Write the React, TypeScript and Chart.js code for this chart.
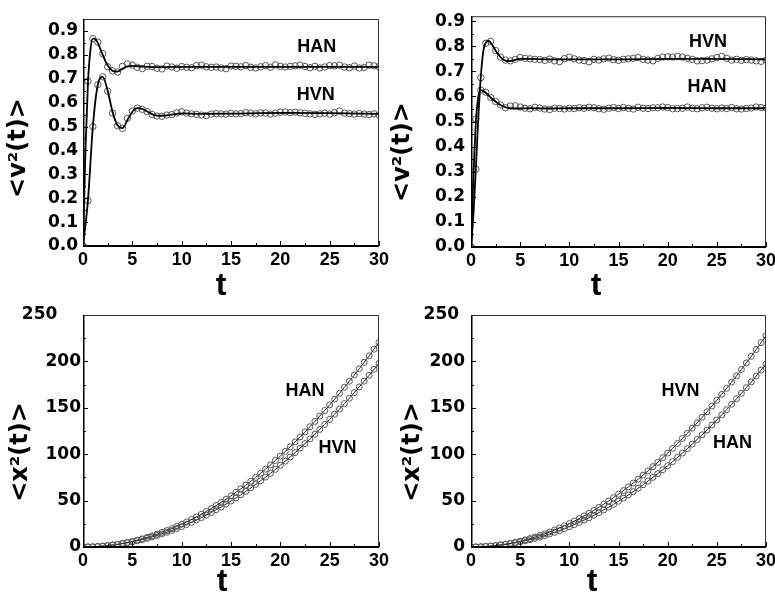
import { useEffect, useRef } from "react";
import { Chart, registerables } from "chart.js";

Chart.register(...registerables);

// ---------- shared axes ----------
const T = [0, 0.5, 1, 1.5, 2, 2.5, 3, 3.5, 4, 4.5, 5, 5.5, 6, 6.5, 7, 7.5, 8, 8.5, 9, 9.5, 10, 10.5, 11, 11.5, 12, 12.5, 13, 13.5, 14, 14.5, 15, 15.5, 16, 16.5, 17, 17.5, 18, 18.5, 19, 19.5, 20, 20.5, 21, 21.5, 22, 22.5, 23, 23.5, 24, 24.5, 25, 25.5, 26, 26.5, 27, 27.5, 28, 28.5, 29, 29.5, 30];
const X_TICKS = [0, 5, 10, 15, 20, 25, 30];
const X_MINOR = [2.5, 7.5, 12.5, 17.5, 22.5, 27.5];
const V_TICKS = [0, 0.1, 0.2, 0.3, 0.4, 0.5, 0.6, 0.7, 0.8, 0.9];
const V_MINOR = [0.05, 0.15, 0.25, 0.35, 0.45, 0.55, 0.65, 0.75, 0.85];
const X2_TICKS = [0, 50, 100, 150, 200, 250];
const X2_MINOR = [25, 75, 125, 175, 225];

// ---------- top-left panel: <v^2(t)> ----------
const TL_HAN_MARK = [0, 0.69, 0.868, 0.853, 0.805, 0.75, 0.733, 0.728, 0.752, 0.762, 0.757, 0.748, 0.742, 0.752, 0.751, 0.744, 0.741, 0.753, 0.749, 0.744, 0.751, 0.748, 0.746, 0.755, 0.757, 0.75, 0.748, 0.749, 0.745, 0.742, 0.753, 0.752, 0.75, 0.755, 0.748, 0.745, 0.75, 0.755, 0.748, 0.758, 0.752, 0.749, 0.752, 0.754, 0.757, 0.751, 0.746, 0.752, 0.745, 0.749, 0.755, 0.754, 0.757, 0.749, 0.746, 0.753, 0.745, 0.747, 0.757, 0.754, 0.75];
const TL_HVN_MARK = [0, 0.19, 0.5, 0.675, 0.708, 0.648, 0.556, 0.503, 0.492, 0.534, 0.565, 0.577, 0.572, 0.562, 0.551, 0.544, 0.543, 0.548, 0.55, 0.557, 0.562, 0.556, 0.553, 0.551, 0.548, 0.546, 0.552, 0.554, 0.553, 0.552, 0.555, 0.553, 0.554, 0.558, 0.556, 0.553, 0.557, 0.556, 0.552, 0.556, 0.56, 0.561, 0.558, 0.56, 0.557, 0.555, 0.553, 0.551, 0.553, 0.556, 0.552, 0.558, 0.565, 0.556, 0.554, 0.552, 0.554, 0.552, 0.55, 0.553, 0.548];
const TL_HAN_LINE_T = [0, 0.25, 0.5, 0.75, 1, 1.25, 1.5, 2, 2.5, 3, 3.5, 4, 4.5, 5, 6, 7, 8, 10, 15, 20, 25, 30];
const TL_HAN_LINE = [0, 0.4, 0.68, 0.82, 0.868, 0.866, 0.85, 0.8, 0.755, 0.733, 0.73, 0.742, 0.752, 0.754, 0.751, 0.749, 0.749, 0.75, 0.75, 0.75, 0.75, 0.749];
const TL_HVN_LINE_T = [0, 0.5, 1, 1.5, 2, 2.5, 3, 3.5, 4, 4.5, 5, 5.5, 6, 6.5, 7, 7.5, 8, 9, 10, 12, 15, 20, 25, 30];
const TL_HVN_LINE = [0, 0.19, 0.5, 0.675, 0.708, 0.65, 0.56, 0.505, 0.493, 0.527, 0.562, 0.577, 0.574, 0.563, 0.552, 0.546, 0.545, 0.55, 0.555, 0.553, 0.554, 0.557, 0.556, 0.553];

// ---------- top-right panel: <v^2(t)> ----------
const TR_HVN_MARK = [0, 0.31, 0.675, 0.812, 0.82, 0.783, 0.757, 0.745, 0.742, 0.748, 0.755, 0.752, 0.75, 0.748, 0.747, 0.744, 0.749, 0.742, 0.739, 0.751, 0.757, 0.75, 0.745, 0.743, 0.738, 0.748, 0.745, 0.75, 0.753, 0.747, 0.744, 0.748, 0.75, 0.752, 0.755, 0.748, 0.745, 0.742, 0.752, 0.757, 0.758, 0.757, 0.76, 0.757, 0.752, 0.748, 0.742, 0.743, 0.745, 0.75, 0.755, 0.76, 0.752, 0.745, 0.748, 0.744, 0.747, 0.745, 0.742, 0.74, 0.745];
const TR_HAN_MARK = [0, 0.51, 0.625, 0.617, 0.596, 0.58, 0.566, 0.555, 0.562, 0.563, 0.558, 0.553, 0.551, 0.557, 0.554, 0.55, 0.548, 0.553, 0.552, 0.55, 0.553, 0.552, 0.555, 0.553, 0.557, 0.555, 0.551, 0.549, 0.553, 0.556, 0.552, 0.556, 0.553, 0.55, 0.557, 0.553, 0.552, 0.555, 0.555, 0.558, 0.556, 0.551, 0.552, 0.553, 0.558, 0.553, 0.551, 0.555, 0.557, 0.553, 0.551, 0.554, 0.552, 0.556, 0.551, 0.55, 0.552, 0.554, 0.558, 0.556, 0.554];
const TR_HVN_LINE_T = [0, 0.25, 0.5, 0.75, 1, 1.25, 1.5, 1.75, 2, 2.5, 3, 3.5, 4, 4.5, 5, 6, 8, 10, 15, 20, 25, 30];
const TR_HVN_LINE = [0, 0.13, 0.32, 0.52, 0.68, 0.78, 0.815, 0.823, 0.815, 0.783, 0.757, 0.743, 0.741, 0.746, 0.75, 0.75, 0.748, 0.748, 0.748, 0.75, 0.75, 0.748];
const TR_HAN_LINE_T = [0, 0.25, 0.5, 0.75, 1, 1.25, 1.5, 2, 2.5, 3, 3.5, 4, 5, 6, 8, 10, 15, 20, 25, 30];
const TR_HAN_LINE = [0, 0.28, 0.5, 0.6, 0.625, 0.622, 0.615, 0.596, 0.58, 0.566, 0.557, 0.553, 0.552, 0.553, 0.552, 0.553, 0.553, 0.554, 0.553, 0.553];

// ---------- bottom-left panel: <x^2(t)> ----------
const BL_HAN = [0, 0.1, 0.2, 0.6, 1.0, 1.5, 2.2, 3.0, 3.9, 5.0, 6.1, 7.4, 8.8, 10.4, 12.0, 13.8, 15.7, 17.7, 19.8, 22.1, 24.5, 27.0, 29.6, 32.4, 35.3, 38.3, 41.4, 44.7, 48.0, 51.5, 55.1, 58.9, 62.7, 66.7, 70.8, 75.0, 79.4, 83.9, 88.4, 93.2, 98.0, 103.0, 108.0, 113.3, 118.6, 124.0, 129.6, 135.3, 141.1, 147.1, 153.1, 159.3, 165.6, 172.1, 178.6, 185.3, 192.1, 199.0, 206.0, 213.2, 220.5];
const BL_HVN = [0, 0.1, 0.2, 0.5, 0.9, 1.4, 2.0, 2.7, 3.5, 4.5, 5.5, 6.7, 7.9, 9.3, 10.8, 12.4, 14.1, 15.9, 17.8, 19.9, 22.0, 24.3, 26.6, 29.1, 31.7, 34.4, 37.2, 40.1, 43.1, 46.3, 49.5, 52.9, 56.3, 59.9, 63.6, 67.4, 71.3, 75.3, 79.4, 83.7, 88.0, 92.5, 97.0, 101.7, 106.5, 111.4, 116.4, 121.5, 126.7, 132.1, 137.5, 143.1, 148.7, 154.5, 160.4, 166.4, 172.5, 178.7, 185.0, 191.5, 198.0];

// ---------- bottom-right panel: <x^2(t)> ----------
const BR_HVN = [0, 0.1, 0.3, 0.6, 1.0, 1.6, 2.3, 3.1, 4.0, 5.1, 6.3, 7.7, 9.1, 10.7, 12.4, 14.2, 16.2, 18.3, 20.5, 22.8, 25.3, 27.9, 30.6, 33.5, 36.4, 39.5, 42.8, 46.1, 49.6, 53.2, 56.9, 60.8, 64.8, 68.9, 73.1, 77.5, 82.0, 86.6, 91.3, 96.2, 101.2, 106.3, 111.6, 117.0, 122.5, 128.1, 133.8, 139.7, 145.7, 151.9, 158.1, 164.5, 171.0, 177.7, 184.4, 191.3, 198.4, 205.5, 212.8, 220.2, 227.7];
const BR_HAN = [0, 0.1, 0.2, 0.5, 0.9, 1.4, 2.0, 2.7, 3.5, 4.4, 5.5, 6.6, 7.9, 9.3, 10.7, 12.3, 14.0, 15.8, 17.7, 19.8, 21.9, 24.1, 26.5, 29.0, 31.5, 34.2, 37.0, 39.9, 42.9, 46.0, 49.3, 52.6, 56.1, 59.6, 63.3, 67.1, 71.0, 75.0, 79.1, 83.3, 87.6, 92.0, 96.6, 101.2, 106.0, 110.9, 115.9, 120.9, 126.1, 131.5, 136.9, 142.4, 148.0, 153.8, 159.7, 165.6, 171.7, 177.9, 184.2, 190.6, 197.1];

// ---------- in-plot labels (data coordinates) ----------
const TL_NOTE_TEXT = ["HAN", "HVN"];
const TL_NOTE_T = [23.7, 23.6];
const TL_NOTE_V = [0.834, 0.632];
const TR_NOTE_TEXT = ["HVN", "HAN"];
const TR_NOTE_T = [24.1, 24.0];
const TR_NOTE_V = [0.816, 0.637];
const BL_NOTE_TEXT = ["HAN", "HVN"];
const BL_NOTE_T = [22.5, 25.8];
const BL_NOTE_V = [168, 107];
const BR_NOTE_TEXT = ["HVN", "HAN"];
const BR_NOTE_T = [21.3, 26.6];
const BR_NOTE_V = [168, 112];

const pts = (xs: number[], ys: number[]) => xs.map((x, i) => ({ x, y: ys[i] }));
const notes = (txt: string[], ts: number[], vs: number[]) => txt.map((text, i) => ({ text, t: ts[i], v: vs[i] }));

const lineDs = (xs: number[], ys: number[]) => ({
  data: pts(xs, ys),
  showLine: true,
  borderColor: "#000",
  borderWidth: 1.8,
  pointRadius: 0,
  cubicInterpolationMode: "monotone" as const,
  fill: false,
});
const markDs = (ys: number[]) => ({
  data: pts(T, ys),
  showLine: false,
  pointRadius: 3.2,
  pointStyle: "circle",
  borderColor: "#555",
  borderWidth: 1,
  backgroundColor: "rgba(0,0,0,0)",
});
const curveDs = (ys: number[]) => ({
  data: pts(T, ys),
  showLine: true,
  borderColor: "#222",
  borderWidth: 1,
  pointRadius: 3,
  pointBorderColor: "#555",
  pointBorderWidth: 1,
  pointBackgroundColor: "rgba(0,0,0,0)",
  fill: false,
  tension: 0,
});

const TICK_FONT_X = { family: '"Liberation Sans", Arial, sans-serif', weight: "bold" as const, size: 18 };
const TICK_FONT_Y = { family: '"DejaVu Sans", sans-serif', weight: "bold" as const, size: 17 };

const PANELS = [
  {
    x: 0, y: 0, padTop: 19, padRight: 21, xh: 54, yPad: 5,
    yMax: 0.95, yTicks: V_TICKS, yMinor: V_MINOR, fmt: (v: number) => v.toFixed(1),
    yTitle: "<v²(t)>", yTitleX: 18.5, yTitleY: 148, xTitleX: 221, xTitleY: 286,
    datasets: [lineDs(TL_HAN_LINE_T, TL_HAN_LINE), lineDs(TL_HVN_LINE_T, TL_HVN_LINE), markDs(TL_HAN_MARK), markDs(TL_HVN_MARK)],
    notes: notes(TL_NOTE_TEXT, TL_NOTE_T, TL_NOTE_V),
  },
  {
    x: 388, y: 0, padTop: 15, padRight: 22, xh: 53, yPad: 6,
    yMax: 0.92, yTicks: V_TICKS, yMinor: V_MINOR, fmt: (v: number) => v.toFixed(1),
    yTitle: "<v²(t)>", yTitleX: 14.5, yTitleY: 152, xTitleX: 208, xTitleY: 286,
    datasets: [lineDs(TR_HVN_LINE_T, TR_HVN_LINE), lineDs(TR_HAN_LINE_T, TR_HAN_LINE), markDs(TR_HVN_MARK), markDs(TR_HAN_MARK)],
    notes: notes(TR_NOTE_TEXT, TR_NOTE_T, TR_NOTE_V),
  },
  {
    x: 0, y: 298, padTop: 17, padRight: 21, xh: 51, yPad: 2,
    yMax: 250, yTicks: X2_TICKS, yMinor: X2_MINOR, fmt: (v: number) => (v === 250 ? "250    " : String(v)),
    yTitle: "<x²(t)>", yTitleX: 21, yTitleY: 154, xTitleX: 222, xTitleY: 284,
    datasets: [curveDs(BL_HAN), curveDs(BL_HVN)],
    notes: notes(BL_NOTE_TEXT, BL_NOTE_T, BL_NOTE_V),
  },
  {
    x: 388, y: 298, padTop: 17, padRight: 22, xh: 51, yPad: 6,
    yMax: 250, yTicks: X2_TICKS, yMinor: X2_MINOR, fmt: (v: number) => (v === 250 ? "250 " : String(v)),
    yTitle: "<x²(t)>", yTitleX: 24.5, yTitleY: 154, xTitleX: 204, xTitleY: 284,
    datasets: [curveDs(BR_HVN), curveDs(BR_HAN)],
    notes: notes(BR_NOTE_TEXT, BR_NOTE_T, BR_NOTE_V),
  },
];

type PanelCfg = (typeof PANELS)[number];

function makeDecor(cfg: PanelCfg) {
  return {
    id: "decor",
    afterDraw(chart: any) {
      const { ctx, chartArea } = chart;
      const { left, right, top, bottom } = chartArea;
      const xs = chart.scales.x;
      const ys = chart.scales.y;
      ctx.save();
      // inward ticks
      ctx.strokeStyle = "#000";
      ctx.lineWidth = 1;
      ctx.beginPath();
      X_TICKS.forEach((v) => {
        const p = Math.round(xs.getPixelForValue(v)) + 0.5;
        ctx.moveTo(p, bottom); ctx.lineTo(p, bottom - 5);
      });
      X_MINOR.forEach((v) => {
        const p = Math.round(xs.getPixelForValue(v)) + 0.5;
        ctx.moveTo(p, bottom); ctx.lineTo(p, bottom - 3);
      });
      cfg.yTicks.forEach((v) => {
        const p = Math.round(ys.getPixelForValue(v)) + 0.5;
        ctx.moveTo(left, p); ctx.lineTo(left + 5, p);
      });
      cfg.yMinor.forEach((v) => {
        const p = Math.round(ys.getPixelForValue(v)) + 0.5;
        ctx.moveTo(left, p); ctx.lineTo(left + 3, p);
      });
      ctx.stroke();
      // frame
      ctx.strokeStyle = "#333";
      ctx.lineWidth = 1;
      ctx.beginPath();
      ctx.moveTo(left, top + 0.5);
      ctx.lineTo(right - 0.5, top + 0.5);
      ctx.lineTo(right - 0.5, bottom);
      ctx.stroke();
      ctx.strokeStyle = "#000";
      ctx.lineWidth = 1.5;
      ctx.beginPath();
      ctx.moveTo(left + 0.75, top);
      ctx.lineTo(left + 0.75, bottom);
      ctx.stroke();
      ctx.lineWidth = 2;
      ctx.beginPath();
      ctx.moveTo(left, bottom);
      ctx.lineTo(right, bottom);
      ctx.stroke();
      // titles
      ctx.fillStyle = "#000";
      ctx.textAlign = "center";
      ctx.textBaseline = "middle";
      ctx.font = 'bold 24px "DejaVu Sans", sans-serif';
      ctx.save();
      ctx.translate(cfg.yTitleX, cfg.yTitleY);
      ctx.rotate(-Math.PI / 2);
      ctx.fillText(cfg.yTitle, 0, 0);
      ctx.restore();
      ctx.font = 'bold 32px "Liberation Sans", Arial, sans-serif';
      ctx.fillText("t", cfg.xTitleX, cfg.xTitleY);
      // series labels
      ctx.font = 'bold 18px "Liberation Sans", Arial, sans-serif';
      cfg.notes.forEach((n) => {
        ctx.fillText(n.text, xs.getPixelForValue(n.t), ys.getPixelForValue(n.v));
      });
      ctx.restore();
    },
  };
}

function Panel({ cfg }: { cfg: PanelCfg }) {
  const ref = useRef<HTMLCanvasElement>(null);
  useEffect(() => {
    const chart = new Chart(ref.current as HTMLCanvasElement, {
      type: "scatter",
      data: { datasets: cfg.datasets as any },
      options: {
        animation: false,
        responsive: false,
        events: [],
        layout: { padding: { left: 0, top: cfg.padTop, right: cfg.padRight, bottom: 0 } },
        plugins: { legend: { display: false }, tooltip: { enabled: false } },
        scales: {
          x: {
            type: "linear",
            min: 0,
            max: 30,
            grid: { display: false, drawTicks: false },
            border: { display: false },
            afterBuildTicks: (s: any) => { s.ticks = X_TICKS.map((value) => ({ value })); },
            afterFit: (s: any) => { s.height = cfg.xh; },
            ticks: { font: TICK_FONT_X, color: "#000", padding: 3, maxRotation: 0, autoSkip: false },
          },
          y: {
            type: "linear",
            min: 0,
            max: cfg.yMax,
            grid: { display: false, drawTicks: false },
            border: { display: false },
            afterBuildTicks: (s: any) => { s.ticks = cfg.yTicks.map((value) => ({ value })); },
            afterFit: (s: any) => { s.width = 83; },
            ticks: { font: TICK_FONT_Y, color: "#000", padding: cfg.yPad, autoSkip: false, callback: (v: any) => cfg.fmt(Number(v)) },
          },
        },
      },
      plugins: [makeDecor(cfg)],
    });
    return () => chart.destroy();
  }, [cfg]);
  return (
    <canvas
      ref={ref}
      width={400}
      height={300}
      style={{ position: "absolute", left: cfg.x, top: cfg.y, width: 400, height: 300 }}
    />
  );
}

export default function App() {
  return (
    <div style={{ position: "absolute", left: 0, top: 0, width: 775, height: 595, overflow: "hidden", background: "#fff" }}>
      {PANELS.map((cfg, i) => (
        <Panel key={i} cfg={cfg} />
      ))}
    </div>
  );
}
